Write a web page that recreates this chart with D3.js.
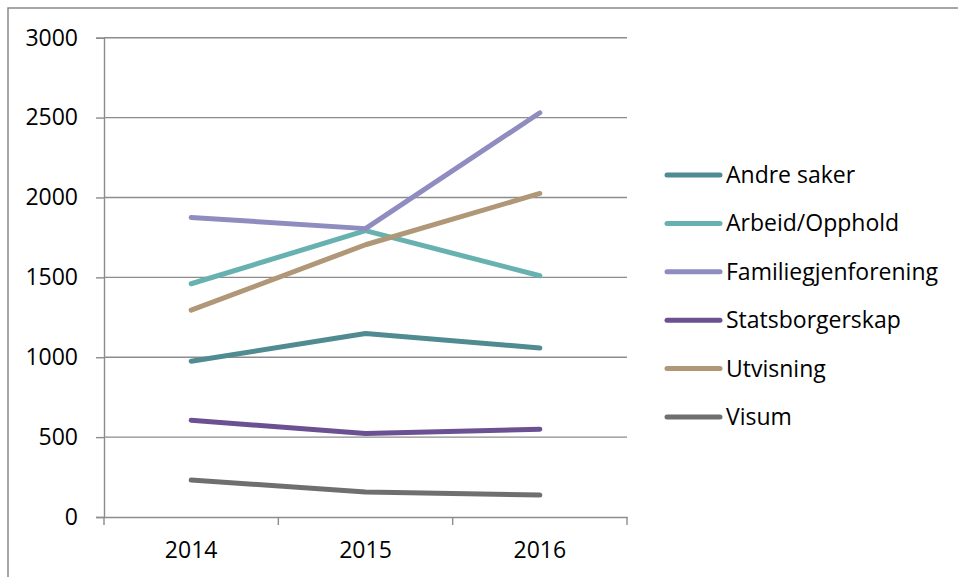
<!DOCTYPE html>
<html>
<head>
<meta charset="utf-8">
<script src="https://cdn.jsdelivr.net/npm/d3@7"></script>
<style>
  html, body { margin: 0; padding: 0; background: #fff; }
  svg { display: block; }
  text { font-family: "Open Sans", Lato, sans-serif; fill: #000; }
</style>
</head>
<body>
<svg id="chart" width="958" height="577"></svg>
<script>
// Saker per kategori, 2014–2016
const years = ["2014", "2015", "2016"];
const seriesNames = ["Andre saker", "Arbeid/Opphold", "Familiegjenforening", "Statsborgerskap", "Utvisning", "Visum"];
const andreSaker = [975, 1148, 1058];
const arbeidOpphold = [1460, 1792, 1510];
const familiegjenforening = [1875, 1805, 2530];
const statsborgerskap = [606, 522, 550];
const utvisning = [1295, 1704, 2025];
const visum = [231, 157, 137];
const yTicks = [0, 500, 1000, 1500, 2000, 2500, 3000];
const colors = ["#4f8b91", "#68b1b1", "#8f8cbf", "#6b5191", "#b09777", "#6f6f6f"];

const seriesValues = [andreSaker, arbeidOpphold, familiegjenforening, statsborgerskap, utvisning, visum];
const series = seriesNames.map((name, i) => ({ name, values: seriesValues[i], color: colors[i] }));

const FONT = "'Open Sans', Lato, sans-serif";
const FONT_SIZE = 23;
const svg = d3.select("#chart");
const plot = { left: 104, right: 627, top: 37.7, bottom: 517 };

// outer frame
svg.append("path")
  .attr("d", "M8,577 L8,8 L958,8")
  .attr("fill", "none")
  .attr("stroke", "#8a8a8a")
  .attr("stroke-width", 1.5);

const x = d3.scaleBand().domain(years).range([plot.left, plot.right]).padding(0);
const y = d3.scaleLinear().domain([0, 3000]).range([plot.bottom, plot.top]);

// horizontal gridlines
svg.append("g")
  .selectAll("line")
  .data(yTicks.filter(t => t > 0))
  .join("line")
  .attr("x1", plot.left).attr("x2", plot.right)
  .attr("y1", d => y(d)).attr("y2", d => y(d))
  .attr("stroke", "#8c8c8c").attr("stroke-width", 1.4);

// y axis
const yAxis = svg.append("g")
  .attr("transform", `translate(${plot.left},0)`)
  .call(d3.axisLeft(y).tickValues(yTicks).tickSize(8).tickPadding(18).tickFormat(d3.format("d")));
yAxis.select(".domain").attr("stroke", "#8c8c8c").attr("stroke-width", 1.4);
yAxis.selectAll(".tick line").attr("stroke", "#8c8c8c").attr("stroke-width", 1.4);
yAxis.selectAll(".tick text")
  .attr("font-size", FONT_SIZE)
  .attr("font-family", FONT)
  .attr("fill", "#000");

// x axis
const xAxis = svg.append("g")
  .attr("transform", `translate(0,${plot.bottom})`)
  .call(d3.axisBottom(x).tickSize(0).tickPadding(25));
xAxis.select(".domain").attr("stroke", "#8c8c8c").attr("stroke-width", 1.4);
xAxis.selectAll(".tick text")
  .attr("font-size", FONT_SIZE)
  .attr("font-family", FONT)
  .attr("fill", "#000");
// category boundary ticks
const boundaries = years.map(d => x(d)).concat([x(years[years.length - 1]) + x.bandwidth()]);
xAxis.selectAll(".bound")
  .data(boundaries)
  .join("line")
  .attr("class", "bound")
  .attr("x1", d => d).attr("x2", d => d)
  .attr("y1", 0).attr("y2", 8)
  .attr("stroke", "#8c8c8c").attr("stroke-width", 1.4);

// series lines
const line = d3.line()
  .x((d, i) => x(years[i]) + x.bandwidth() / 2)
  .y(d => y(d));

svg.append("g")
  .selectAll("path")
  .data(series)
  .join("path")
  .attr("d", d => line(d.values))
  .attr("fill", "none")
  .attr("stroke", d => d.color)
  .attr("stroke-width", 5)
  .attr("stroke-linecap", "round")
  .attr("stroke-linejoin", "round");

// legend
const legend = svg.append("g").attr("transform", "translate(667,175)");
const rows = legend.selectAll("g")
  .data(series)
  .join("g")
  .attr("transform", (d, i) => `translate(0,${i * 48.4})`);
rows.append("line")
  .attr("x1", 0).attr("x2", 53)
  .attr("y1", 0).attr("y2", 0)
  .attr("stroke", d => d.color)
  .attr("stroke-width", 5)
  .attr("stroke-linecap", "round");
rows.append("text")
  .attr("x", 59)
  .attr("y", 0)
  .attr("dy", "0.35em")
  .attr("font-size", FONT_SIZE)
  .attr("font-family", FONT)
  .text(d => d.name);
</script>
</body>
</html>
